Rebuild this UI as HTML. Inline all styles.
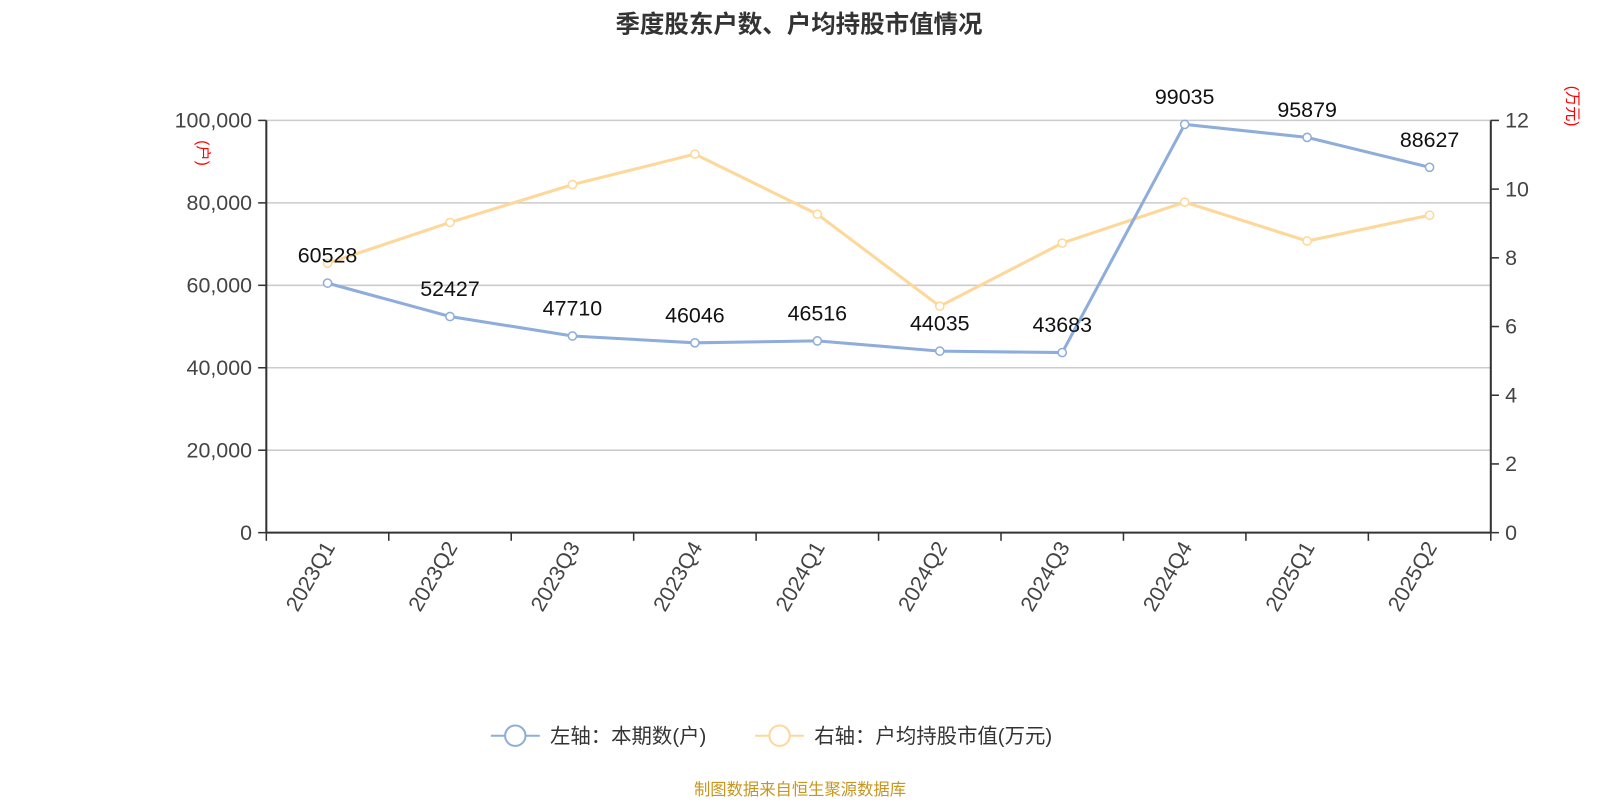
<!DOCTYPE html>
<html><head><meta charset="utf-8"><style>
body{margin:0;background:#fff;width:1600px;height:800px;overflow:hidden}
svg text{font-family:"Liberation Sans","Noto Sans CJK SC",sans-serif}
</style></head><body>
<svg width="1600" height="800">
<g transform="scale(1.0204)">
<text x="783" y="32" text-anchor="middle" font-size="24" font-weight="bold" fill="#333">季度股东户数、户均持股市值情况</text>
<g id="grid"></g>
<g id="axes"></g>
<g id="series"></g>
<text transform="translate(194,150) rotate(90)" text-anchor="middle" font-size="15" fill="#f00">(户)</text>
<text transform="translate(1536,104) rotate(90)" text-anchor="middle" font-size="15" fill="#f00">(万元)</text>
<g>
<line x1="481" y1="721" x2="529" y2="721" stroke="#8eadda" stroke-width="2"/>
<circle cx="505" cy="721" r="10" fill="#fff" stroke="#8eadda" stroke-width="2"/>
<text x="539" y="728" font-size="20" fill="#333">左轴：本期数(户)</text></g>
<g>
<line x1="740" y1="721" x2="788" y2="721" stroke="#fdd89a" stroke-width="2"/>
<circle cx="764" cy="721" r="10" fill="#fff" stroke="#fdd89a" stroke-width="2"/>
<text x="798" y="728" font-size="20" fill="#333">右轴：户均持股市值(万元)</text></g>
<text x="784" y="779" text-anchor="middle" font-size="16" fill="#c8961e">制图数据来自恒生聚源数据库</text>
</g>
</svg>
<script>
const categories=["2023Q1","2023Q2","2023Q3","2023Q4","2024Q1","2024Q2","2024Q3","2024Q4","2025Q1","2025Q2"];
const holders=[60528,52427,47710,46046,46516,44035,43683,99035,95879,88627];
const avgValue=[7.84,9.03,10.13,11.02,9.27,6.59,8.43,9.62,8.49,9.24];
const leftTicks=[0,20000,40000,60000,80000,100000];
const rightTicks=[0,2,4,6,8,10,12];
const NS="http://www.w3.org/2000/svg";
const L=261,R=1461,T=118,B=522;
const bw=(R-L)/categories.length;
const xs=i=>L+bw*(i+0.5);
const yl=v=>B-(v/100000)*(B-T);
const yr=v=>B-(v/12)*(B-T);
function mk(p,tag,a,txt){const e=document.createElementNS(NS,tag);for(const k in a)e.setAttribute(k,a[k]);if(txt!=null)e.textContent=txt;p.appendChild(e);return e;}
const g=document.getElementById('grid'),ax=document.getElementById('axes'),s=document.getElementById('series');
leftTicks.forEach(t=>{const y=yl(t);
if(t>0){const gl=mk(g,'line',{x1:L,x2:R,y1:y,y2:y,stroke:'#ccc','stroke-width':1.5});

}
mk(ax,'line',{x1:L-8,x2:L,y1:y,y2:y,stroke:'#333','stroke-width':1.5});
const tx=mk(ax,'text',{x:L-14,y:y+7,'text-anchor':'end','font-size':21,fill:'#444'},t.toLocaleString('en-US'));

});
rightTicks.forEach(t=>{const y=yr(t);
mk(ax,'line',{x1:R,x2:R+8,y1:y,y2:y,stroke:'#333','stroke-width':1.5});
const tx=mk(ax,'text',{x:R+14,y:y+7,'font-size':21,fill:'#444'},t);

});
mk(ax,'line',{x1:L,x2:L,y1:T,y2:B,stroke:'#333','stroke-width':2});
mk(ax,'line',{x1:R,x2:R,y1:T,y2:B,stroke:'#333','stroke-width':2});
mk(ax,'line',{x1:L,x2:R,y1:B,y2:B,stroke:'#333','stroke-width':2});
for(let i=0;i<=categories.length;i++){const x=L+bw*i;mk(ax,'line',{x1:x,x2:x,y1:B,y2:B+8,stroke:'#333','stroke-width':1.5});}
categories.forEach((c,i)=>{const x=xs(i);
const tx=mk(ax,'text',{transform:`translate(${x+8},${B+14}) rotate(-60)`,'text-anchor':'end','font-size':21,fill:'#444'},c);

});
function line(vals,yf,col,name,labels){
const pl=mk(s,'polyline',{points:vals.map((v,i)=>xs(i)+','+yf(v)).join(' '),fill:'none',stroke:col,'stroke-width':3});


vals.forEach((v,i)=>{const c=mk(s,'circle',{cx:xs(i),cy:yf(v),r:4,fill:'#fff',stroke:col,'stroke-width':1.5});


if(labels){const t=mk(s,'text',{x:xs(i),y:yf(v)-20,'text-anchor':'middle','font-size':21,fill:'#111'},v);

}});}
line(avgValue,yr,'#fdd89a','avg-value',false);
line(holders,yl,'#8eadda','holders',true);
</script>
</body></html>
